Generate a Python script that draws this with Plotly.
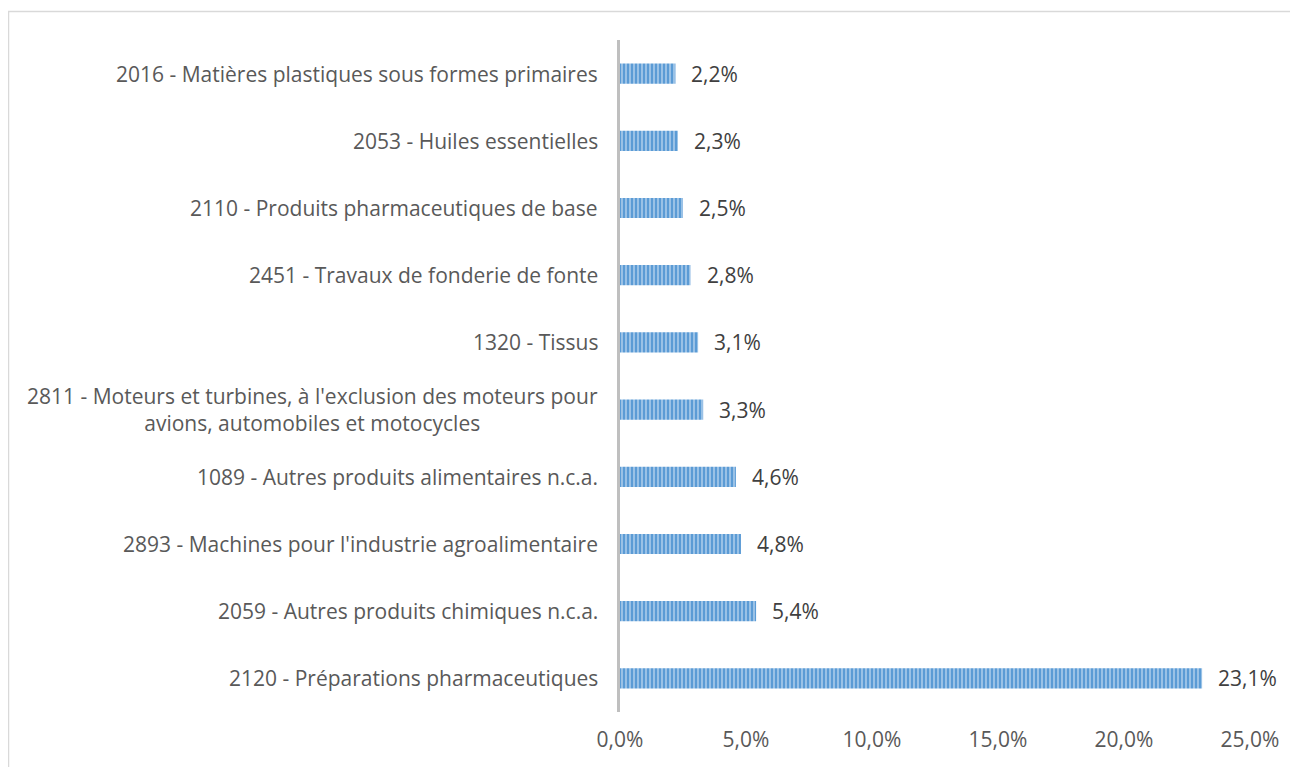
import plotly.graph_objects as go

categories = [
    "2016 - Matières plastiques sous formes primaires",
    "2053 - Huiles essentielles",
    "2110 - Produits pharmaceutiques de base",
    "2451 - Travaux de fonderie de fonte",
    "1320 - Tissus",
    "2811 - Moteurs et turbines, à l'exclusion des moteurs pour<br>avions, automobiles et motocycles",
    "1089 - Autres produits alimentaires n.c.a.",
    "2893 - Machines pour l'industrie agroalimentaire",
    "2059 - Autres produits chimiques n.c.a.",
    "2120 - Préparations pharmaceutiques",
]
values = [2.2, 2.3, 2.5, 2.8, 3.1, 3.3, 4.6, 4.8, 5.4, 23.1]
tick_values = [0, 5, 10, 15, 20, 25]
tick_labels = ["0,0%", "5,0%", "10,0%", "15,0%", "20,0%", "25,0%"]

FONT = "Open Sans"
FS = 21
TXT = "#595959"

# page has an 8px body margin; figure coords = page coords - 8
W, H = 1290, 759
L, T, R, B = 612, 32, 48, 55
PW, PH = W - L - R, H - T - B

fig = go.Figure()
fig.add_trace(go.Bar(
    y=categories, x=values, orientation="h",
    marker=dict(
        color="#5b9bd5",
        line=dict(width=0),
        pattern=dict(shape="|", fgcolor="#c5dcf2", bgcolor="#5b9bd5",
                     size=4, solidity=0.3, fillmode="replace"),
    ),
    hoverinfo="skip",
))

annotations = []
for c, v in zip(categories, values):
    annotations.append(dict(
        x=v, y=c, xref="x", yref="y", text=f"{v:.1f}%".replace(".", ","),
        showarrow=False, xanchor="left", xshift=14,
        font=dict(family=FONT, size=FS, color="#404040"),
    ))
    annotations.append(dict(
        x=0, y=c, xref="x", yref="y", text=c,
        showarrow=False, xanchor="right", xshift=-20, align="center",
        font=dict(family=FONT, size=FS, color=TXT),
    ))

fig.update_layout(
    width=W, height=H,
    margin=dict(l=L, r=R, t=T, b=B),
    paper_bgcolor="white", plot_bgcolor="white",
    bargap=0.7,
    showlegend=False,
    annotations=annotations,
    xaxis=dict(
        range=[0, 25], tickvals=tick_values, ticktext=tick_labels,
        showgrid=False, zeroline=False, showline=False,
        tickfont=dict(family=FONT, size=FS, color=TXT), ticks="",
        ticklabelstandoff=13,
    ),
    yaxis=dict(
        autorange="reversed", showticklabels=False, showgrid=False,
        zeroline=False, showline=True, linecolor="#bfbfbf", linewidth=3,
        ticks="",
    ),
    shapes=[dict(
        type="rect", xref="paper", yref="paper",
        x0=(0.5 - L) / PW, x1=(W + 10 - L) / PW,
        y0=-(B + 10) / PH, y1=1 + (T - 3.5) / PH,
        line=dict(color="#d9d9d9", width=1.5), fillcolor="rgba(0,0,0,0)",
        layer="below",
    )],
)

fig.write_html("out.html")
